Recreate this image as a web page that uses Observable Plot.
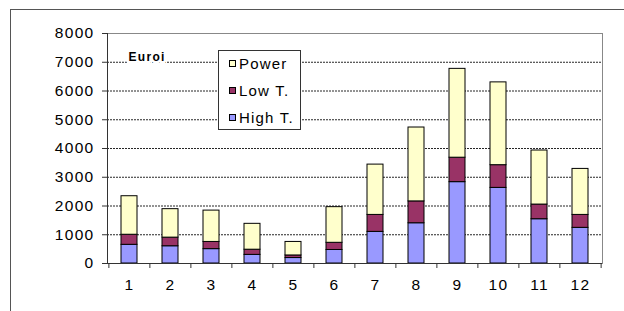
<!DOCTYPE html>
<html>
<head>
<meta charset="utf-8">
<script src="https://cdn.jsdelivr.net/npm/d3@7"></script>
<script src="https://cdn.jsdelivr.net/npm/@observablehq/plot@0.6"></script>
<style>
  html, body { margin: 0; padding: 0; background: #fff; }
  #wrap { position: relative; width: 624px; height: 311px; overflow: hidden; font-family: "Liberation Sans", Arial, sans-serif; }
  #wrap svg { position: absolute; left: 0; top: 0; }
  #outer { position: absolute; left: 10px; top: 9px; width: 700px; height: 400px; border: 1px solid #555; pointer-events: none; }
  #legend { position: absolute; left: 218px; top: 50px; width: 81px; height: 78px; border: 1px solid #333; background: #fff; }
  .item { position: absolute; left: 10px; height: 20px; display: flex; align-items: center; font-size: 15px; letter-spacing: 1.2px; color: #000; }
  .sw { width: 5px; height: 5px; border: 1px solid #000; margin-right: 3px; }
</style>
</head>
<body>
<div id="wrap"><div id="outer"></div></div>
<script>
const months = [1, 2, 3, 4, 5, 6, 7, 8, 9, 10, 11, 12];
const seriesNames = ["High T.", "Low T.", "Power"];
const seriesColors = ["#9999FF", "#993366", "#FFFFCC"];
const highT = [650, 600, 500, 300, 190, 470, 1100, 1400, 2830, 2630, 1540, 1240];
const lowT = [350, 300, 250, 180, 90, 250, 590, 760, 850, 790, 510, 450];
const power = [1340, 990, 1090, 900, 470, 1240, 1750, 2570, 3090, 2880, 1880, 1600];
const yTicks = [0, 1000, 2000, 3000, 4000, 5000, 6000, 7000, 8000];
const gridTicks = [1000, 2000, 3000, 4000, 5000, 6000, 7000];
const unitLabel = "Euroi";
const legendOrder = ["Power", "Low T.", "High T."];

const seriesValues = [highT, lowT, power];
const rows = [];
months.forEach((m, i) => {
  seriesNames.forEach((s, j) => rows.push({month: m, series: s, value: seriesValues[j][i]}));
});

const W = 624, H = 311, ML = 107, MR = 22, MT = 33, MB = 48;
const step = (W - ML - MR) / months.length;

const chart = Plot.plot({
  width: W, height: H,
  marginLeft: ML, marginRight: MR, marginTop: MT, marginBottom: MB,
  style: {background: "transparent", fontFamily: "'Liberation Sans', Arial, sans-serif", fontSize: "15px", letterSpacing: "1.3px", color: "#000"},
  x: {type: "band", domain: months, paddingInner: 0.6, paddingOuter: 0.3, axis: null, label: null},
  y: {domain: [0, 8000], axis: null, label: null},
  color: {domain: seriesNames, range: seriesColors},
  marks: [
    Plot.gridY(gridTicks, {stroke: "#000", strokeOpacity: 0.85, strokeDasharray: "2,1"}),
    Plot.frame({stroke: "#888"}),
    Plot.text([unitLabel], {frameAnchor: "top-left", dx: 21, dy: 24, lineAnchor: "middle", textAnchor: "start", fontWeight: "bold", fontSize: 12, fill: "#000", stroke: "#fff", strokeWidth: 5}),
    Plot.barY(rows, {x: "month", y: "value", fill: "series", stroke: "#000", strokeWidth: 1}),
    Plot.ruleY([0], {stroke: "#333"}),
    Plot.frame({anchor: "left", stroke: "#333"}),
    Plot.ruleX(months, {x: d => d, dx: -step / 2, y1: 0, y2: 0, insetBottom: -5, stroke: "#333"}),
    Plot.ruleX([months[months.length - 1]], {x: d => d, dx: step / 2, y1: 0, y2: 0, insetBottom: -5, stroke: "#333"}),
    Plot.axisY(yTicks, {tickSize: 5, tickPadding: 8, fontSize: 15.5, stroke: "#333", label: null, tickFormat: d => String(d)}),
    Plot.axisX({tickSize: 0, tickPadding: 15, fontSize: 15.5, label: null})
  ]
});
const wrap = document.getElementById("wrap");
wrap.insertBefore(chart, wrap.firstChild);

const legend = document.createElement("div");
legend.id = "legend";
legendOrder.forEach((name, i) => {
  const item = document.createElement("div");
  item.className = "item";
  item.style.top = (2 + i * 27.3) + "px";
  const sw = document.createElement("span");
  sw.className = "sw";
  sw.style.background = seriesColors[seriesNames.indexOf(name)];
  const t = document.createElement("span");
  t.textContent = name;
  item.appendChild(sw);
  item.appendChild(t);
  legend.appendChild(item);
});
wrap.appendChild(legend);
</script>
</body>
</html>
